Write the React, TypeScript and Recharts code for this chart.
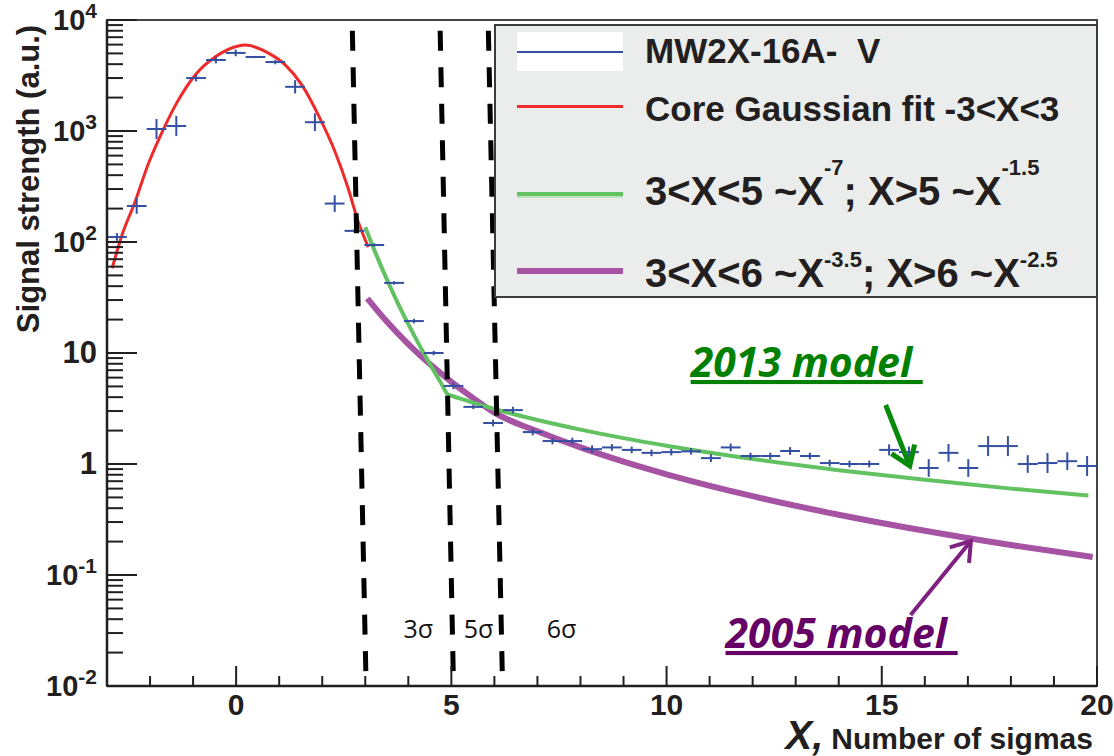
import React from 'react';
import { ComposedChart, Line, Scatter, ErrorBar, XAxis, YAxis, ReferenceLine, ReferenceArea, ReferenceDot } from 'recharts';

// measured histogram bins (centre in sigmas, signal in a.u.)
const binX = [-2.77, -2.31, -1.85, -1.39, -0.93, -0.47, -0.01, 0.45, 0.91, 1.37, 1.83, 2.29, 2.75, 3.21, 3.67, 4.13, 4.59, 5.05, 5.51, 5.97, 6.43, 6.89, 7.35, 7.81, 8.27, 8.73, 9.19, 9.65, 10.11, 10.57, 11.03, 11.49, 11.95, 12.41, 12.87, 13.33, 13.79, 14.25, 14.71, 15.17, 15.63, 16.09, 16.55, 17.01, 17.47, 17.93, 18.39, 18.85, 19.31, 19.77];
const signal = [111, 211, 1042, 1110, 3000, 4360, 5050, 4640, 4180, 2500, 1200, 222, 126, 94, 42.8, 19.4, 10, 5.05, 3.27, 2.34, 3.06, 1.94, 1.61, 1.61, 1.36, 1.41, 1.34, 1.26, 1.28, 1.3, 1.13, 1.41, 1.18, 1.18, 1.31, 1.18, 1.02, 1.0, 1.0, 1.34, 1.28, 0.92, 1.26, 0.92, 1.45, 1.45, 1.0, 1.02, 1.06, 0.96];
// vertical half-size of each cross, in decades
const errDecades = [0.035, 0.07, 0.09, 0.09, 0.03, 0.03, 0.03, 0.01, 0.02, 0.06, 0.08, 0.075, 0.015, 0.015, 0.015, 0.02, 0.02, 0.03, 0.02, 0.03, 0.03, 0.03, 0.03, 0.03, 0.035, 0.03, 0.03, 0.03, 0.03, 0.03, 0.035, 0.035, 0.03, 0.03, 0.035, 0.03, 0.03, 0.03, 0.03, 0.05, 0.05, 0.08, 0.08, 0.08, 0.09, 0.09, 0.08, 0.09, 0.08, 0.09];
const binHalfWidth = 0.23;

// core gaussian fit
const gaussX = [-2.88, -2.65, -2.35, -2.05, -1.72, -1.37, -0.95, -0.49, 0.05, 0.21, 0.74, 1.14, 1.53, 1.91, 2.3, 2.6, 2.84, 3.07];
const gaussY = [58, 116, 229, 494, 977, 1820, 3200, 4640, 5840, 5950, 5050, 3940, 2590, 1390, 647, 306, 151, 90];

// 2013 model: X^-7 then X^-1.5
const model2013X = [3.0, 3.25, 3.5, 3.75, 4.0, 4.25, 4.5, 4.75, 4.93, 5.0, 5.5, 6, 7, 8, 9, 10, 12, 14, 16, 18, 19.8];
const model2013Y = [136, 77.7, 46.2, 28.5, 18.2, 11.9, 7.96, 5.45, 4.2, 4.12, 3.57, 3.13, 2.49, 2.04, 1.71, 1.46, 1.11, 0.88, 0.72, 0.6, 0.52];

// 2005 model: X^-3.5 then X^-2.5
const model2005X = [3.05, 3.5, 4, 4.5, 5, 5.5, 6, 7, 8, 9, 10, 12, 14, 16, 18, 19.9];
const model2005Y = [31, 19.2, 12.0, 7.95, 5.5, 3.94, 2.9, 1.97, 1.41, 1.05, 0.808, 0.513, 0.349, 0.25, 0.186, 0.145];

const xTicks = [-2, -1, 0, 1, 2, 3, 4, 5, 6, 7, 8, 9, 10, 11, 12, 13, 14, 15, 16, 17, 18, 19, 20];
const xMajor = [0, 5, 10, 15, 20];
const yTicks = [
  0.01, 0.02, 0.03, 0.04, 0.05, 0.06, 0.07, 0.08, 0.09,
  0.1, 0.2, 0.3, 0.4, 0.5, 0.6, 0.7, 0.8, 0.9,
  1, 2, 3, 4, 5, 6, 7, 8, 9,
  10, 20, 30, 40, 50, 60, 70, 80, 90,
  100, 200, 300, 400, 500, 600, 700, 800, 900,
  1000, 2000, 3000, 4000, 5000, 6000, 7000, 8000, 9000, 10000,
];
const yMajor = [0.01, 0.1, 1, 10, 100, 1000, 10000];
const yLabelBase = ['10', '10', '1', '10', '10', '10', '10'];
const yLabelExp = ['-2', '-1', '', '', '2', '3', '4'];

// slanted sigma cut lines: x at top and at bottom
const cutTopX = [2.7, 4.74, 5.86];
const cutBottomX = [3.02, 5.05, 6.19];
const cutTopY = 8000;
const sigmaLabelX = [4.23, 5.63, 7.56];
const sigmaLabels = ['3σ', '5σ', '6σ'];

const INK = '#231f20';
const BLUE = '#3550a2';
const RED = '#ee2a2a';
const GREEN = '#62c262';
const PURPLE = '#a553a2';

const points = binX.map((x, i) => {
  const v = signal[i];
  const h = errDecades[i];
  return { x, y: v, ex: binHalfWidth, ey: [v - v * Math.pow(10, -h), v * Math.pow(10, h) - v] };
});
const gauss = gaussX.map((x, i) => ({ x, y: gaussY[i] }));
const model2013 = model2013X.map((x, i) => ({ x, y: model2013Y[i] }));
const model2005 = model2005X.map((x, i) => ({ x, y: model2005Y[i] }));

const NoMark = () => <g />;

const YTick = ({ x, y, payload }: any) => {
  const i = yMajor.indexOf(payload.value);
  const major = i >= 0;
  const exp = major ? yLabelExp[i] : '';
  return (
    <g>
      <line x1={x} x2={x + (major ? 30 : 16)} y1={y} y2={y} stroke={INK} strokeWidth={2} />
      {major && (
        <text x={x - 10} y={y} dy={10} textAnchor="end" fill={INK} fontWeight="bold" fontSize={exp ? 29 : 31}>
          {yLabelBase[i]}
          {exp && (
            <tspan fontSize={21} dy={-12}>
              {exp}
            </tspan>
          )}
        </text>
      )}
    </g>
  );
};

const XTick = ({ x, y, payload }: any) => {
  const major = xMajor.includes(payload.value);
  return (
    <g>
      <line x1={x} x2={x} y1={y} y2={y - (major ? 20 : 10)} stroke={INK} strokeWidth={2} />
      {major && (
        <text x={x} y={y + 29} textAnchor="middle" fill={INK} fontWeight="bold" fontSize={30}>
          {payload.value}
        </text>
      )}
    </g>
  );
};

const XTitle = (props: any) => {
  const vb = props.viewBox;
  return (
    <text x={vb.x + vb.width - 4} y={vb.y + 63} textAnchor="end" fill={INK} fontWeight="bold">
      <tspan fontSize={40} fontStyle="italic">X,</tspan>
      <tspan fontSize={30} dx={8}>Number of sigmas</tspan>
    </text>
  );
};

const YTitle = (props: any) => {
  const vb = props.viewBox;
  const cx = vb.x + 21;
  const cy = vb.y + 159;
  return (
    <text x={cx} y={cy} transform={`rotate(-90, ${cx}, ${cy})`} textAnchor="middle" dominantBaseline="central" fill={INK} fontWeight="bold" fontSize={31}>
      Signal strength (a.u.)
    </text>
  );
};

const arrow = (color: string, width: number) => (p: any) => {
  const { x1, y1, x2, y2 } = p;
  const ang = Math.atan2(y2 - y1, x2 - x1);
  const arm = 22;
  const a1 = ang + Math.PI - 0.6;
  const a2 = ang + Math.PI + 0.6;
  return (
    <g>
      <line x1={x1} y1={y1} x2={x2} y2={y2} stroke={color} strokeWidth={width} />
      <polyline
        points={`${x2 + arm * Math.cos(a1)},${y2 + arm * Math.sin(a1)} ${x2},${y2} ${x2 + arm * Math.cos(a2)},${y2 + arm * Math.sin(a2)}`}
        fill="none"
        stroke={color}
        strokeWidth={width}
        strokeLinejoin="miter"
      />
    </g>
  );
};

const modelLabel = (text: string, color: string) => (p: any) => (
  <text x={p.cx} y={p.cy} fill={color} fontFamily="'Open Sans', sans-serif" fontWeight="bold" fontStyle="italic" fontSize={41} textDecoration="underline">
    {text}
  </text>
);

const sigmaText = (text: string) => (p: any) => (
  <text x={p.cx} y={p.cy} textAnchor="middle" dominantBaseline="central" fill="#111" fontFamily="'Open Sans', sans-serif" fontSize={25}>
    {text}
  </text>
);

const rowText: React.CSSProperties = {
  position: 'absolute',
  left: 149,
  whiteSpace: 'pre',
  fontWeight: 'bold',
  color: INK,
};
const sup = (top: number): React.CSSProperties => ({ position: 'relative', top, fontSize: 22 });

const LegendBox = () => (
  <div
    style={{
      position: 'absolute',
      left: 494,
      top: 24,
      width: 604,
      height: 274,
      boxSizing: 'border-box',
      border: '2px solid #3c3c3c',
      background: '#ebedec',
    }}
  >
    <div style={{ position: 'absolute', left: 21, top: 6, width: 106, height: 39, background: '#fff' }} />
    <div style={{ position: 'absolute', left: 21, top: 24.5, width: 106, height: 2, background: BLUE }} />
    <div style={{ position: 'absolute', left: 21, top: 78.5, width: 106, height: 3, background: RED }} />
    <div style={{ position: 'absolute', left: 21, top: 166, width: 106, height: 4, background: GREEN }} />
    <div style={{ position: 'absolute', left: 21, top: 170, width: 106, height: 2, background: '#bfe3bf' }} />
    <div style={{ position: 'absolute', left: 21, top: 242, width: 106, height: 5.5, background: PURPLE }} />
    <div style={{ ...rowText, top: 7, fontSize: 35, lineHeight: '35px' }}>{'MW2X-16A-  V'}</div>
    <div style={{ ...rowText, top: 65, fontSize: 35, lineHeight: '35px' }}>{'Core Gaussian fit -3<X<3'}</div>
    <div style={{ ...rowText, top: 145, fontSize: 40, lineHeight: '40px' }}>
      {'3<X<5 ~X'}
      <span style={sup(-30)}>-7</span>
      {'; X>5 ~X'}
      <span style={sup(-30)}>-1.5</span>
    </div>
    <div style={{ ...rowText, top: 227, fontSize: 40, lineHeight: '40px' }}>
      {'3<X<6 ~X'}
      <span style={sup(-20)}>-3.5</span>
      {'; X>6 ~X'}
      <span style={sup(-20)}>-2.5</span>
    </div>
  </div>
);

export default function App() {
  return (
    <div
      style={{
        position: 'absolute',
        left: 0,
        top: 0,
        width: 1114,
        height: 756,
        background: '#fff',
        fontFamily: "'Liberation Sans', Arial, Helvetica, sans-serif",
      }}
    >
      <ComposedChart width={1114} height={756} margin={{ top: 20, right: 17, bottom: 10, left: 7 }}>
        <XAxis
          type="number"
          dataKey="x"
          domain={[-3, 20]}
          ticks={xTicks}
          interval={0}
          tickSize={0}
          tickMargin={0}
          tickLine={false}
          tick={<XTick />}
          axisLine={{ stroke: INK, strokeWidth: 2.5 }}
          height={60}
          allowDataOverflow
          label={XTitle}
        />
        <YAxis
          type="number"
          dataKey="y"
          scale="log"
          domain={[0.01, 10000]}
          ticks={yTicks}
          interval={0}
          tickSize={0}
          tickMargin={0}
          tickLine={false}
          tick={<YTick />}
          axisLine={{ stroke: INK, strokeWidth: 2.5 }}
          width={100}
          allowDataOverflow
          label={YTitle}
        />
        <ReferenceArea x1={-3} x2={20} y1={0.01} y2={10000} fill="none" stroke="#444" strokeWidth={2} ifOverflow="visible" />
        <Line data={model2005} dataKey="y" type="monotone" stroke={PURPLE} strokeWidth={6} dot={false} isAnimationActive={false} />
        <Line data={model2013} dataKey="y" type="monotone" stroke={GREEN} strokeWidth={4} dot={false} isAnimationActive={false} />
        <Line data={gauss} dataKey="y" type="monotone" stroke={RED} strokeWidth={3} dot={false} isAnimationActive={false} />
        <Scatter data={points} shape={NoMark} isAnimationActive={false}>
          <ErrorBar dataKey="ex" direction="x" width={0} stroke={BLUE} strokeWidth={2} isAnimationActive={false} />
          <ErrorBar dataKey="ey" direction="y" width={0} stroke={BLUE} strokeWidth={2} isAnimationActive={false} />
        </Scatter>
        {cutTopX.map((tx, i) => (
          <ReferenceLine
            key={`cut${i}`}
            segment={[
              { x: tx, y: cutTopY },
              { x: cutBottomX[i], y: 0.01 },
            ]}
            stroke="#000"
            strokeWidth={5}
            strokeDasharray="20 16.5"
            ifOverflow="visible"
          />
        ))}
        {sigmaLabelX.map((sx, i) => (
          <ReferenceDot key={`sig${i}`} x={sx} y={0.0333} r={1} shape={sigmaText(sigmaLabels[i])} />
        ))}
        <ReferenceLine
          segment={[
            { x: 15.09, y: 3.4 },
            { x: 15.65, y: 0.96 },
          ]}
          shape={arrow('#0a8a0a', 5)}
          ifOverflow="visible"
        />
        <ReferenceLine
          segment={[
            { x: 15.67, y: 0.0437 },
            { x: 17.07, y: 0.202 },
          ]}
          shape={arrow('#7e2180', 4)}
          ifOverflow="visible"
        />
        <ReferenceDot x={10.56} y={6.08} r={1} shape={modelLabel('2013 model\u00a0', '#008000')} />
        <ReferenceDot x={11.37} y={0.022} r={1} shape={modelLabel('2005 model\u00a0', '#660066')} />
      </ComposedChart>
      <LegendBox />
    </div>
  );
}
